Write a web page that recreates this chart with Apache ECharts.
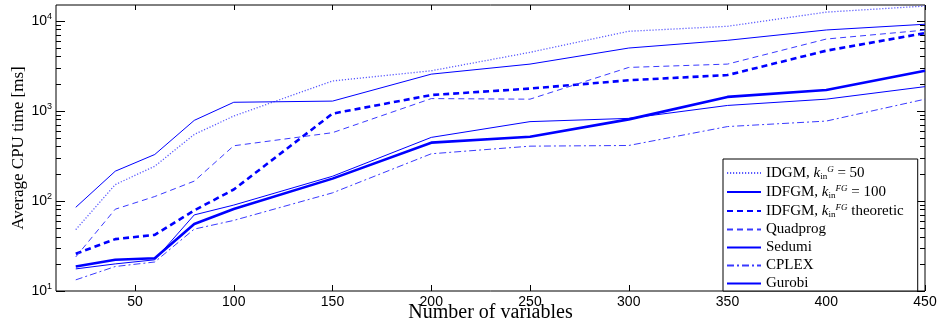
<!DOCTYPE html>
<html>
<head>
<meta charset="utf-8">
<script src="https://cdn.jsdelivr.net/npm/echarts@6/dist/echarts.min.js"></script>
<style>
  html, body { margin: 0; padding: 0; background: #fff; }
  #chart { width: 938px; height: 321px; }
</style>
</head>
<body>
<div id="chart"></div>
<script>
// number of variables
const nVars = [20, 40, 60, 80, 100, 150, 200, 250, 300, 350, 400, 450];

// average CPU time [ms]
const idgm = [48, 152, 243, 548, 877, 2150, 2790, 4470, 7660, 8700, 12500, 14600];
const idfgm = [18.7, 22.2, 23.1, 55.5, 81.5, 177, 444, 516, 805, 1430, 1710, 2790];
const idfgmTheo = [25.9, 37.7, 42, 78.5, 134, 933, 1500, 1770, 2190, 2500, 4660, 7300];
const quadprog = [23.9, 81, 112, 166, 410, 573, 1370, 1350, 3040, 3310, 6280, 7900];
const sedumi = [85, 214, 328, 785, 1247, 1285, 2560, 3310, 4990, 6080, 7920, 9170];
const cplex = [13.3, 18.7, 21, 48.7, 60.8, 123, 334, 406, 413, 670, 771, 1350];
const gurobi = [17.6, 20, 22.2, 70, 90, 188, 508, 760, 826, 1150, 1350, 1860];

const xTicks = [50, 100, 150, 200, 250, 300, 350, 400, 450];
const yTicks = [10, 100, 1000, 10000];
const yMinorTicks = [];
yTicks.forEach(function (d) {
  for (let k = 2; k <= 9; k++) {
    if (d * k <= 15000) yMinorTicks.push(d * k);
  }
});

const BLUE = '#0000ff';
const serif = 'Liberation Serif';
const sans = 'Liberation Sans';

function pairs(ys) {
  return nVars.map(function (x, i) { return [x, ys[i]]; });
}

const rich = {
  r: { fontFamily: serif, fontSize: 15, color: '#000', lineHeight: 13 },
  i: { fontFamily: serif, fontSize: 15, fontStyle: 'italic', color: '#000', lineHeight: 13 },
  sub: { fontFamily: serif, fontSize: 9, color: '#000', padding: [7, 0, 0, 0], lineHeight: 13 },
  sup: { fontFamily: serif, fontSize: 9, fontStyle: 'italic', color: '#000', padding: [0, 0, 7, 0], lineHeight: 13 }
};

const legendText = {
  'IDGM, k50': '{r|IDGM, }{i|k}{sub|in}{sup|G}{r| = 50}',
  'IDFGM, k100': '{r|IDFGM, }{i|k}{sub|in}{sup|FG}{r| = 100}',
  'IDFGM, ktheo': '{r|IDFGM, }{i|k}{sub|in}{sup|FG}{r| theoretic}',
  'Quadprog': '{r|Quadprog}',
  'Sedumi': '{r|Sedumi}',
  'CPLEX': '{r|CPLEX}',
  'Gurobi': '{r|Gurobi}'
};

function lineSeries(name, ys, color, width, type) {
  return {
    name: name,
    type: 'line',
    data: pairs(ys),
    symbol: 'none',
    showSymbol: false,
    silent: true,
    animation: false,
    lineStyle: { color: color, width: width, type: type, cap: 'butt' },
    itemStyle: { color: color }
  };
}

function yAxis(position, ticks, len, withLabels) {
  return {
    type: 'log',
    logBase: 10,
    min: 10,
    max: 15000,
    position: position,
    axisLine: { show: false },
    splitLine: { show: false },
    minorTick: { show: false },
    axisTick: {
      show: true,
      inside: true,
      length: len,
      customValues: ticks,
      lineStyle: { color: '#000', width: 1 }
    },
    axisLabel: withLabels ? {
      show: true,
      margin: 4,
      customValues: yTicks,
      formatter: function (v) {
        return '{b|10}{e|' + Math.round(Math.log10(v)) + '}';
      },
      rich: {
        b: { fontFamily: sans, fontSize: 14, color: '#000' },
        e: { fontFamily: sans, fontSize: 9, color: '#000', padding: [0, 0, 9, 0] }
      }
    } : { show: false }
  };
}

const chart = echarts.init(document.getElementById('chart'), null, { renderer: 'canvas' });

chart.setOption({
  animation: false,
  backgroundColor: '#fff',
  grid: {
    left: 56, right: 13, top: 5, bottom: 30,
    outerBoundsMode: 'none',
    containLabel: false,
    show: true, borderColor: '#000', borderWidth: 1
  },
  legend: {
    orient: 'vertical',
    left: 723,
    top: 159,
    padding: [6, 14, 0, 3],
    itemWidth: 34,
    itemHeight: 12,
    itemGap: 3,
    backgroundColor: '#fff',
    borderColor: '#000',
    borderWidth: 1,
    borderRadius: 0,
    selectedMode: false,
    itemStyle: { opacity: 0 },
    textStyle: { fontFamily: serif, fontSize: 15, color: '#000', lineHeight: 13, rich: rich },
    formatter: function (name) { return legendText[name]; },
    data: ['IDGM, k50', 'IDFGM, k100', 'IDFGM, ktheo', 'Quadprog', 'Sedumi', 'CPLEX', 'Gurobi']
  },
  xAxis: [
    {
      type: 'value',
      min: 10,
      max: 450,
      name: 'Number of variables',
      nameLocation: 'middle',
      nameGap: 12,
      nameMoveOverlap: false,
      nameTextStyle: { fontFamily: serif, fontSize: 20, color: '#000', verticalAlign: 'top' },
      axisLine: { show: false },
      splitLine: { show: false },
      axisTick: { show: true, inside: true, length: 6, customValues: xTicks, lineStyle: { color: '#000' } },
      axisLabel: { show: true, margin: 4, customValues: xTicks, fontFamily: sans, fontSize: 14, color: '#000' }
    },
    {
      type: 'value',
      min: 10,
      max: 450,
      position: 'top',
      axisLine: { show: false },
      splitLine: { show: false },
      axisTick: { show: true, inside: true, length: 5, customValues: xTicks, lineStyle: { color: '#000' } },
      axisLabel: { show: false }
    }
  ],
  yAxis: [
    Object.assign(yAxis('left', yTicks, 9, true), {
      name: 'Average CPU time [ms]',
      nameLocation: 'middle',
      nameGap: 29,
      nameMoveOverlap: false,
      nameTextStyle: { fontFamily: serif, fontSize: 17, color: '#000' }
    }),
    yAxis('left', yMinorTicks, 5, false),
    yAxis('right', yTicks, 8, false),
    yAxis('right', yMinorTicks, 5, false)
  ],
  series: [
    lineSeries('IDGM, k50', idgm, '#5a5aff', 1.3, [1.2, 1.8]),
    lineSeries('IDFGM, k100', idfgm, BLUE, 2.6, 'solid'),
    lineSeries('IDFGM, ktheo', idfgmTheo, BLUE, 2.6, [6, 4]),
    lineSeries('Quadprog', quadprog, '#3a3aff', 1, [6, 4]),
    lineSeries('Sedumi', sedumi, BLUE, 1, 'solid'),
    lineSeries('CPLEX', cplex, '#3a3aff', 1, [7, 3, 2, 3]),
    lineSeries('Gurobi', gurobi, BLUE, 1, 'solid')
  ]
});
</script>
</body>
</html>
